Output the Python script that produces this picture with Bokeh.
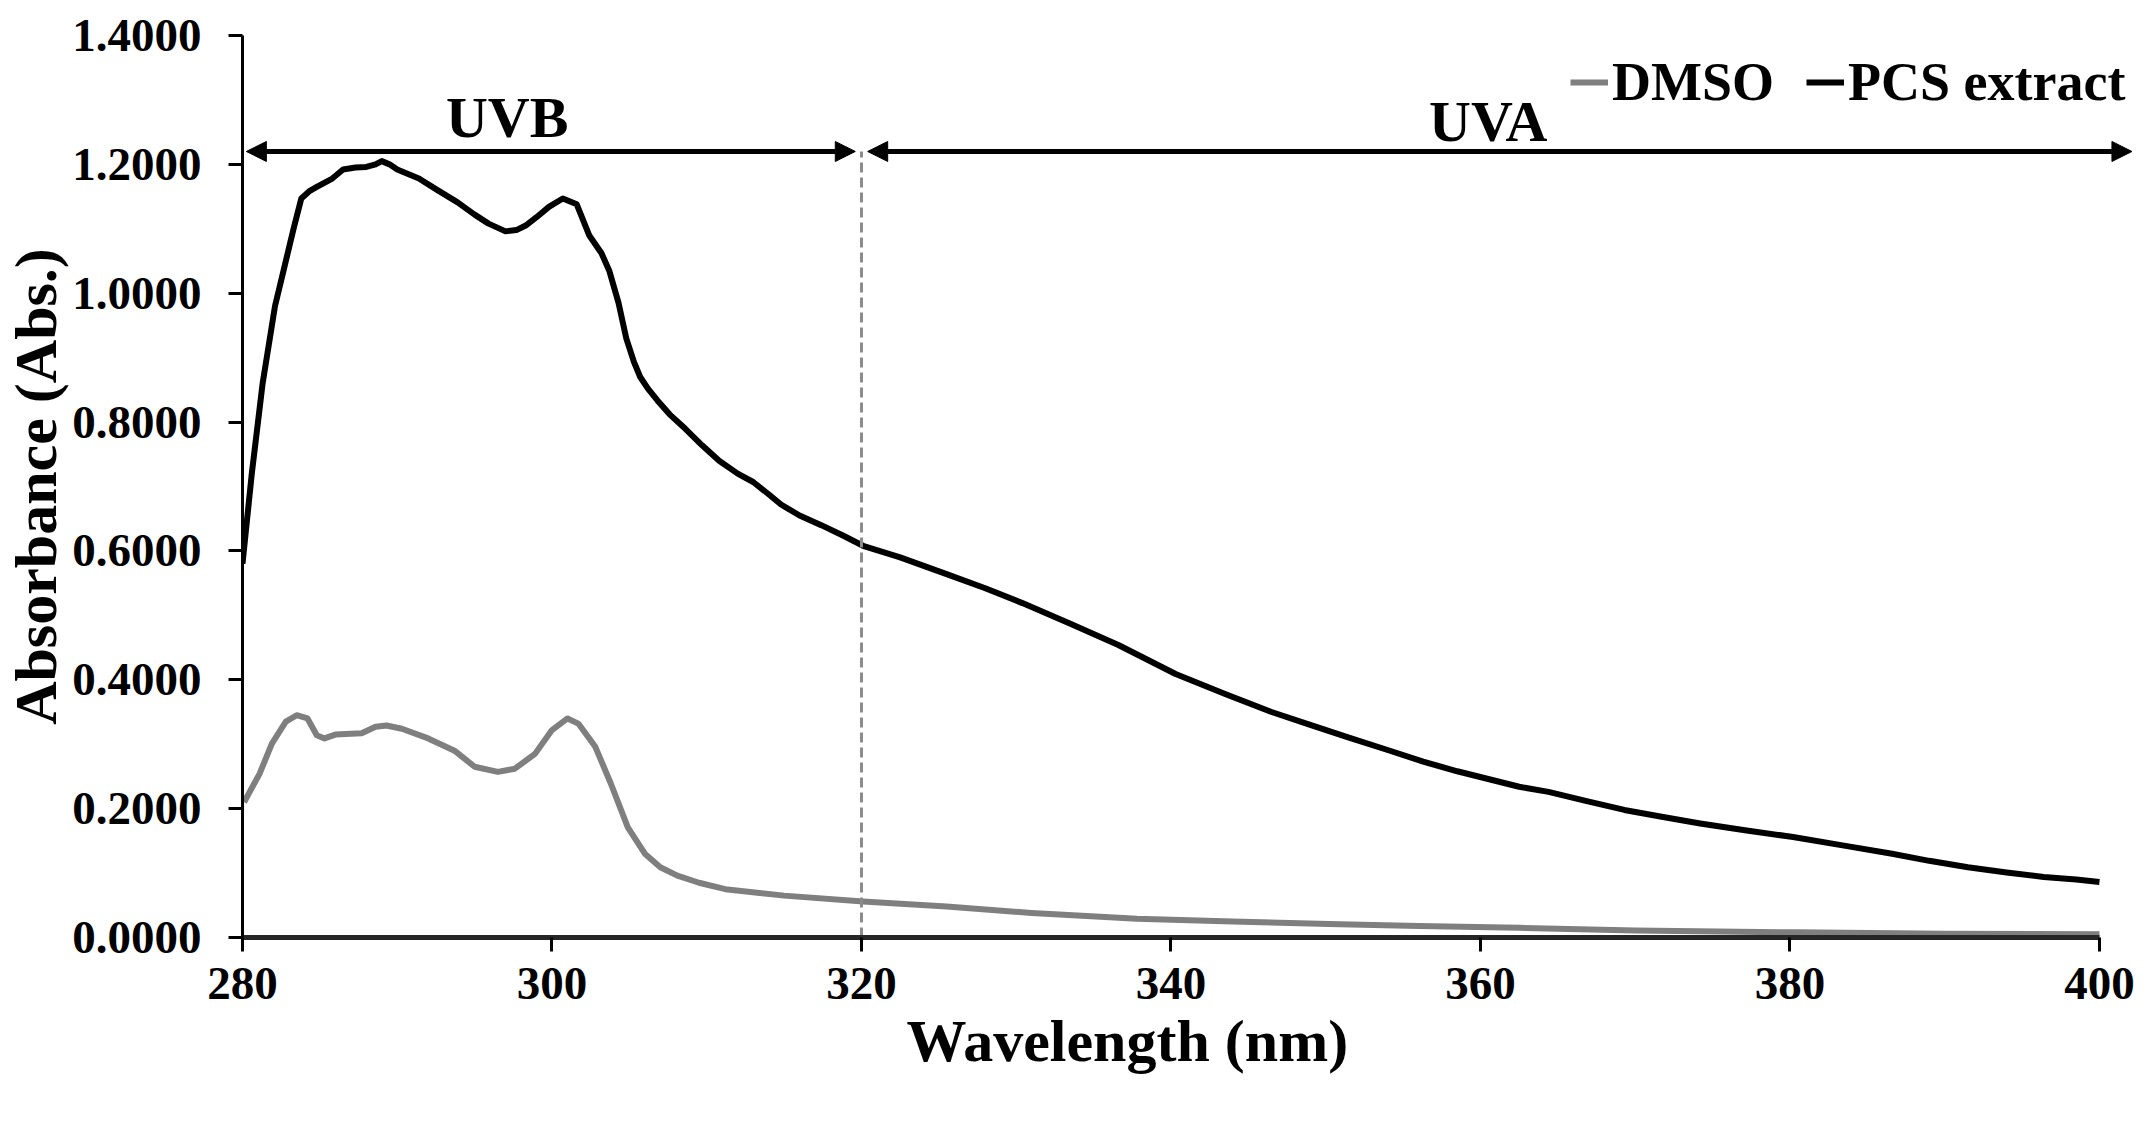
from bokeh.plotting import figure
from bokeh.models import (Range1d, FixedTicker, PrintfTickFormatter, Legend, LegendItem,
                          Arrow, NormalHead, Title)
from bokeh.core.properties import value
from bokeh.embed import file_html
from bokeh.resources import INLINE

# ---------------- data ----------------
pcs_wl = [280.0, 280.6, 281.3, 282.1, 282.7, 283.3, 283.8, 284.3, 284.8, 285.8, 286.5, 287.3,
          288.0, 288.6, 289.0, 289.5, 290.0, 291.4, 292.6, 293.9, 295.0, 295.9, 297.0, 297.7,
          298.3, 299.0, 299.8, 300.7, 301.6, 302.4, 303.2, 303.7, 304.3, 304.8, 305.3, 305.7,
          306.2, 306.8, 307.6, 308.6, 309.7, 310.8, 312.0, 313.0, 314.0, 314.8, 316.0, 317.4,
          318.8, 320.1, 322.5, 325.5, 328.0, 330.4, 333.5, 336.6, 340.3, 343.5, 346.5, 349.0,
          351.4, 354.0, 356.3, 358.5, 360.5, 362.5, 364.4, 366.8, 369.3, 371.8, 374.2, 377.2,
          380.2, 383.4, 386.6, 389.0, 391.5, 394.0, 396.4, 398.5, 400.0]
pcs_abs = [0.58, 0.72, 0.86, 0.98, 1.04, 1.10, 1.147, 1.158, 1.165, 1.178, 1.192, 1.195,
           1.196, 1.200, 1.205, 1.200, 1.192, 1.178, 1.160, 1.141, 1.122, 1.108, 1.096, 1.098,
           1.105, 1.118, 1.134, 1.147, 1.138, 1.090, 1.062, 1.035, 0.985, 0.930, 0.893, 0.870,
           0.852, 0.834, 0.812, 0.790, 0.764, 0.740, 0.720, 0.707, 0.688, 0.672, 0.655, 0.640,
           0.624, 0.608, 0.590, 0.564, 0.542, 0.519, 0.487, 0.454, 0.409, 0.378, 0.350, 0.330,
           0.311, 0.291, 0.273, 0.258, 0.246, 0.234, 0.226, 0.212, 0.198, 0.187, 0.177, 0.166,
           0.156, 0.143, 0.130, 0.119, 0.109, 0.101, 0.094, 0.090, 0.086]

dmso_wl = [280.1, 281.1, 281.9, 282.8, 283.5, 284.2, 284.8, 285.3, 286.0, 287.7, 288.6, 289.3,
           290.3, 292.0, 293.7, 295.0, 296.5, 297.6, 298.9, 300.0, 301.0, 301.7, 302.8, 303.8,
           304.9, 306.0, 307.0, 308.1, 309.5, 311.2, 315.0, 320.1, 325.5, 331.0, 337.8, 344.0,
           350.2, 356.0, 362.5, 370.0, 380.4, 390.0, 400.0]
dmso_abs = [0.210, 0.254, 0.301, 0.335, 0.345, 0.340, 0.314, 0.309, 0.315, 0.317, 0.327, 0.329,
            0.324, 0.309, 0.290, 0.265, 0.257, 0.262, 0.285, 0.322, 0.340, 0.332, 0.296, 0.239,
            0.171, 0.130, 0.109, 0.096, 0.085, 0.075, 0.065, 0.056, 0.048, 0.038, 0.029, 0.025,
            0.021, 0.018, 0.015, 0.011, 0.008, 0.006, 0.005]

x_ticks = [280, 300, 320, 340, 360, 380, 400]
y_ticks = [0.0, 0.2, 0.4, 0.6, 0.8, 1.0, 1.2, 1.4]
series_names = ["DMSO", "PCS extract"]
region_names = ["UVB", "UVA"]
boundary_wl = 320

FONT = "Liberation Serif"

p = figure(width=2138, height=1107,
           x_range=Range1d(280, 402.2), y_range=Range1d(0, 1.4),
           output_backend="svg", toolbar_location=None,
           min_border_left=235, min_border_right=5, min_border_top=35, min_border_bottom=170)
p.outline_line_color = None
p.xgrid.visible = False
p.ygrid.visible = False
p.background_fill_color = "white"

# axes
p.xaxis.ticker = FixedTicker(ticks=x_ticks)
p.xaxis.bounds = (280, 400)
p.yaxis.ticker = FixedTicker(ticks=y_ticks)
p.yaxis.formatter = PrintfTickFormatter(format="%.4f")
for ax in (p.xaxis, p.yaxis):
    ax.major_label_text_font = FONT
    ax.major_label_text_font_style = "bold"
    ax.major_label_text_font_size = "47px"
    ax.major_label_text_color = "black"
    ax.major_tick_in = 0
    ax.major_tick_out = 14
    ax.major_tick_line_width = 3
    ax.major_tick_line_color = "black"
    ax.minor_tick_line_color = None
p.xaxis.axis_line_width = 5
p.xaxis.axis_line_color = "#262626"
p.yaxis.axis_line_width = 3
p.yaxis.axis_line_color = "black"
p.xaxis.major_label_standoff = 16
p.yaxis.major_label_standoff = 27

p.yaxis.axis_label = "Absorbance (Abs.)"
p.yaxis.axis_label_text_font = FONT
p.yaxis.axis_label_text_font_style = "bold"
p.yaxis.axis_label_text_font_size = "60px"
p.yaxis.axis_label_text_color = "black"
p.yaxis.axis_label_standoff = 0

# x axis title, placed left of centre as in the original
p.add_layout(Title(text="Wavelength (nm)", align="left", offset=664, standoff=8,
                   text_font=FONT, text_font_style="bold", text_font_size="60px",
                   text_color="black"), "below")

# curves
r_pcs = p.line(pcs_wl, pcs_abs, line_color="black", line_width=6, line_join="round")
r_dmso = p.line(dmso_wl, dmso_abs, line_color="#7f7f7f", line_width=6, line_join="round")

# boundary dashed line
p.segment(x0=[boundary_wl], y0=[0], x1=[boundary_wl], y1=[1.22],
          line_color="#8c8c8c", line_width=3, line_dash="10 5")

# region arrows
arrow_y = 1.22
ends = [(280.25, 319.6), (320.4, 402.1)]
for (xs, xe) in ends:
    p.add_layout(Arrow(x_start=xs, y_start=arrow_y, x_end=xe, y_end=arrow_y,
                       line_width=5, line_color="black",
                       start=NormalHead(size=20, fill_color="black", line_color="black", line_width=1),
                       end=NormalHead(size=20, fill_color="black", line_color="black", line_width=1)))

p.text(x=[297.1, 360.5], y=[1.273, 1.267], text=region_names,
       text_font=value(FONT), text_font_style="bold", text_font_size="58px",
       text_color="black", text_align="center", text_baseline="middle")

legend = Legend(items=[LegendItem(label=series_names[0], renderers=[r_dmso]),
                       LegendItem(label=series_names[1], renderers=[r_pcs])],
                orientation="horizontal", location=(1328, 824),
                label_text_font=FONT, label_text_font_style="bold",
                label_text_font_size="54px", label_text_color="black",
                glyph_width=38, glyph_height=30, label_standoff=4, spacing=32,
                padding=0, margin=0, border_line_color=None, background_fill_alpha=0)
p.add_layout(legend)

open("out.html", "w").write(file_html(p, INLINE))
